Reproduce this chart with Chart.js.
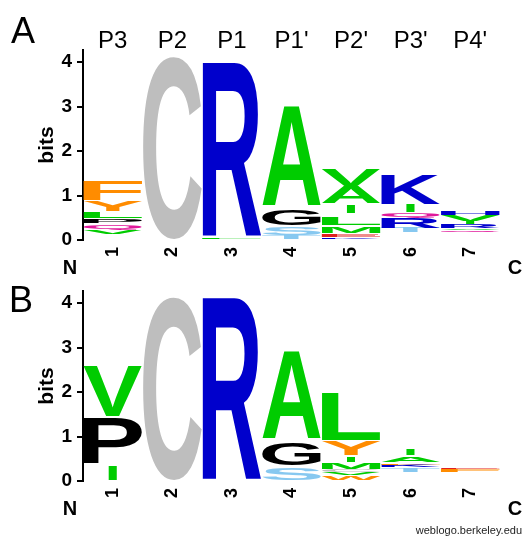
<!DOCTYPE html>
<html>
<head>
<meta charset="utf-8">
<script src="https://cdn.jsdelivr.net/npm/chart.js@4.4.1/dist/chart.umd.min.js"></script>
<style>
  body { margin: 0; background: #fff; }
  #wrap { position: relative; width: 523px; height: 536px; overflow: hidden; }
  canvas { position: absolute; left: 0; }
</style>
</head>
<body>
<div id="wrap">
  <canvas id="logoA" width="523" height="285" style="top:0"></canvas>
  <canvas id="logoB" width="523" height="295" style="top:241px"></canvas>
</div>
<script>
// positions along the peptide, and the protease site names over panel A
const positions = ["1", "2", "3", "4", "5", "6", "7"];
const siteNames = ["P3", "P2", "P1", "P1'", "P2'", "P3'", "P4'"];
const bitsMax = 4.27;

// stacks, bottom to top; "." = residues too small to print
const lettersA = [".V.Q.P.L.Y.F", "C", "L.R", "TS.G.A", "KE.M.L.I.A.V", ".TRQ.I.K", ".QV.R.IVH"];
const bitsA = [
  [0.13, 0.07, 0.02, 0.09, 0.07, 0.07, 0.05, 0.13, 0.02, 0.22, 0.02, 0.44],
  [4.12],
  [0.05, 0.01, 3.93],
  [0.11, 0.18, 0.05, 0.34, 0.10, 2.24],
  [0.06, 0.05, 0.04, 0.14, 0.05, 0.18, 0.09, 0.18, 0.03, 0.37, 0.03, 0.36],
  [0.17, 0.10, 0.22, 0.10, 0.03, 0.16, 0.04, 0.67],
  [0.18, 0.04, 0.03, 0.02, 0.07, 0.03, 0.05, 0.14, 0.07]
];

const lettersB = ["C.I.P.V", "C", "R", "S.G.A", "W.V.C.M.I.Y.L", ".T.KF.A.I", ".F.E"];
const bitsB = [
  [0.02, 0.01, 0.33, 0.05, 1.01, 0.03, 1.13],
  [4.13],
  [4.12],
  [0.29, 0.06, 0.51, 0.10, 1.96],
  [0.10, 0.03, 0.05, 0.02, 0.06, 0.01, 0.14, 0.02, 0.12, 0.03, 0.30, 0.05, 1.06],
  [0.20, 0.09, 0.02, 0.06, 0.04, 0.02, 0.10, 0.06, 0.13],
  [0.20, 0.05, 0.02, 0.04]
];

const residueColors = {
  A: "#00cc00", V: "#00cc00", L: "#00cc00", I: "#00cc00", M: "#00cc00",
  C: "#bebebe",
  R: "#0000cc", K: "#0000cc", H: "#0000cc",
  F: "#ff8c00", Y: "#ff8c00", W: "#ff8c00",
  G: "#000000", P: "#000000",
  S: "#87c8f0", T: "#87c8f0",
  Q: "#e0189a", N: "#e0189a",
  E: "#e02020", D: "#e02020"
};
// letters that keep a narrow width instead of filling the column
const narrowWidth = { I: 0.14 };

const FONT = '"Liberation Sans", Arial, Helvetica, sans-serif';

// stretch one letter so its ink fills the box
function drawGlyph(ctx, ch, x, y, w, h, color) {
  ctx.save();
  ctx.font = "bold 200px " + FONT;
  ctx.textAlign = "left";
  ctx.textBaseline = "alphabetic";
  const m = ctx.measureText(ch);
  const gw = m.actualBoundingBoxLeft + m.actualBoundingBoxRight;
  const gh = m.actualBoundingBoxAscent + m.actualBoundingBoxDescent;
  ctx.translate(x, y);
  ctx.scale(w / gw, h / gh);
  ctx.fillStyle = color;
  ctx.fillText(ch, m.actualBoundingBoxLeft, m.actualBoundingBoxAscent);
  ctx.restore();
}

const logoGlyphs = {
  id: "logoGlyphs",
  afterDatasetsDraw(chart) {
    const ctx = chart.ctx;
    chart.data.datasets.forEach((ds, j) => {
      chart.getDatasetMeta(j).data.forEach((bar, i) => {
        const ch = ds.letters[i];
        if (!ch || ch === ".") return;
        const p = bar.getProps(["x", "y", "base", "width"], true);
        const h = Math.abs(p.base - p.y);
        if (h <= 0) return;
        const w = narrowWidth[ch] ? p.width * narrowWidth[ch] : p.width - 1;
        drawGlyph(ctx, ch, p.x - w / 2, Math.min(p.y, p.base), w, h, residueColors[ch]);
      });
    });
  }
};

function buildDatasets(letters, bits) {
  const n = Math.max(...letters.map(s => s.length));
  const sets = [];
  for (let j = 0; j < n; j++) {
    sets.push({
      data: bits.map(b => (b[j] === undefined ? 0 : b[j])),
      letters: letters.map(s => s[j] || "."),
      backgroundColor: "rgba(0,0,0,0)",
      borderWidth: 0
    });
  }
  return sets;
}

function makeLogo(id, letters, bits, panel) {
  const textPlugin = {
    id: "panelText",
    afterDraw(chart) {
      const ctx = chart.ctx;
      const a = chart.chartArea;
      const x = chart.scales.x;
      ctx.save();
      ctx.fillStyle = "#000";

      ctx.font = "36px " + FONT;
      ctx.textAlign = "left";
      ctx.textBaseline = "alphabetic";
      ctx.fillText(panel.label, panel.labelX, panel.labelY);

      if (panel.sites) {
        ctx.font = "24px " + FONT;
        ctx.textAlign = "center";
        siteNames.forEach((s, i) => ctx.fillText(s, x.getPixelForValue(i), a.top - 2));
      }

      ctx.font = "bold 21px " + FONT;
      ctx.save();
      ctx.translate(a.left - 30, (a.top + a.bottom) / 2);
      ctx.rotate(-Math.PI / 2);
      ctx.textAlign = "center";
      ctx.fillText("bits", 0, 0);
      ctx.restore();

      ctx.font = "bold 20px " + FONT;
      ctx.textAlign = "center";
      ctx.fillText("N", a.left - 13, a.bottom + 34);
      ctx.fillText("C", a.right + 15, a.bottom + 34);

      if (panel.footer) {
        ctx.font = "11px " + FONT;
        ctx.fillStyle = "#222";
        ctx.textAlign = "right";
        ctx.fillText("weblogo.berkeley.edu", 522, 293);
      }
      ctx.restore();
    }
  };

  return new Chart(document.getElementById(id), {
    type: "bar",
    data: { labels: positions, datasets: buildDatasets(letters, bits) },
    options: {
      responsive: false,
      devicePixelRatio: 1,
      animation: false,
      barPercentage: 1,
      categoryPercentage: 1,
      layout: { padding: { left: 43, right: 23, top: 50, bottom: panel.padBottom } },
      scales: {
        x: {
          stacked: true,
          afterFit(s) { s.height = 20; },
          grid: { display: false, drawTicks: false },
          border: { display: false },
          ticks: {
            autoSkip: false,
            minRotation: 90,
            maxRotation: 90,
            padding: 7,
            color: "#000",
            font: { family: FONT, size: 18, weight: "bold" }
          }
        },
        y: {
          stacked: true,
          min: 0,
          max: bitsMax,
          afterFit(s) { s.width = 40; },
          ticks: {
            stepSize: 1,
            includeBounds: false,
            padding: 5,
            color: "#000",
            font: { family: FONT, size: 19, weight: "bold" }
          },
          grid: { drawOnChartArea: false, drawTicks: true, tickLength: 6, lineWidth: 2, color: "#000" },
          border: { display: true, color: "#000", width: 2 }
        }
      },
      plugins: {
        legend: { display: false },
        title: { display: false },
        tooltip: { enabled: false }
      }
    },
    plugins: [logoGlyphs, textPlugin]
  });
}

makeLogo("logoA", lettersA, bitsA, { label: "A", labelX: 11, labelY: 43, sites: true, footer: false, padBottom: 25 });
makeLogo("logoB", lettersB, bitsB, { label: "B", labelX: 9, labelY: 71, sites: false, footer: true, padBottom: 35 });
</script>
</body>
</html>
